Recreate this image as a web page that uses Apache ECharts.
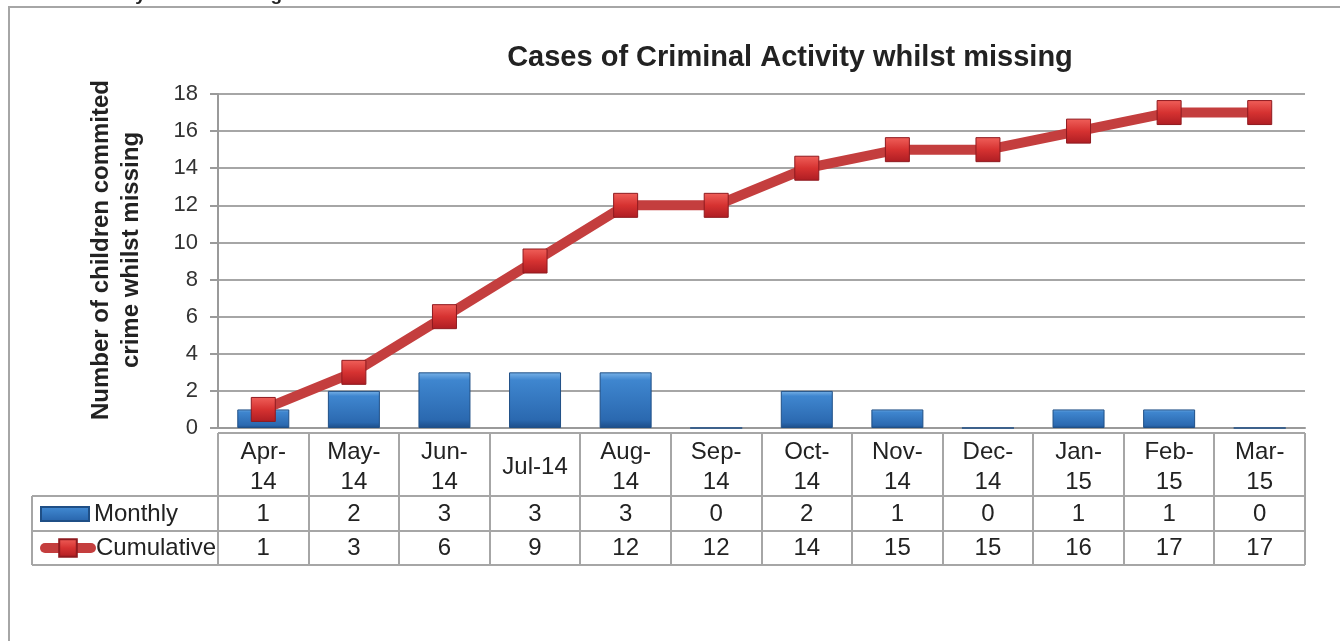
<!DOCTYPE html>
<html>
<head>
<meta charset="utf-8">
<title>Cases of Criminal Activity whilst missing</title>
<script src="https://cdn.jsdelivr.net/npm/echarts@6/dist/echarts.min.js"></script>
<style>
html,body{margin:0;padding:0;background:#fff;}
#main{width:1340px;height:641px;}
</style>
</head>
<body>
<div id="main"></div>
<script>
// data
var months = ['Apr-\n14','May-\n14','Jun-\n14','Jul-14','Aug-\n14','Sep-\n14','Oct-\n14','Nov-\n14','Dec-\n14','Jan-\n15','Feb-\n15','Mar-\n15'];
var monthly = [1,2,3,3,3,0,2,1,0,1,1,0];
var cumulative = [1,3,6,9,12,12,14,15,15,16,17,17];
var seriesNames = ['Monthly','Cumulative'];

// layout (px)
var plotL = 218, plotR = 1305, plotT = 94, plotB = 428;
var tabTop = 433, rowA = 496, rowB = 531, tabBot = 565, tabL = 32;
var FONT = '"Liberation Sans", Arial, sans-serif';

var barColor = new echarts.graphic.LinearGradient(0,0,0,1,[
	{offset:0, color:'#7ab3e8'},
	{offset:0.14, color:'#3f86cf'},
	{offset:0.85, color:'#2b69b0'},
	{offset:1, color:'#1c4d88'}
]);
var markColor = new echarts.graphic.LinearGradient(0,0,0,1,[
	{offset:0, color:'#f0605a'},
	{offset:0.5, color:'#d63231'},
	{offset:1, color:'#ad1d23'}
]);

// data table grid lines
function tableLines(){
	var els = [];
	var lineStyle = {stroke:'#a6a6a6', lineWidth:2};
	var hl = [[plotL, tabTop],[tabL, rowA],[tabL, rowB],[tabL, tabBot]];
	for(var i=0;i<hl.length;i++){
		els.push({type:'line', shape:{x1:hl[i][0], y1:hl[i][1], x2:plotR, y2:hl[i][1]}, style:lineStyle, silent:true});
	}
	els.push({type:'line', shape:{x1:tabL, y1:rowA, x2:tabL, y2:tabBot}, style:lineStyle, silent:true});
	var w = (plotR - plotL) / months.length;
	for(var k=0;k<=months.length;k++){
		var x = Math.round(plotL + k*w);
		els.push({type:'line', shape:{x1:x, y1:tabTop, x2:x, y2:tabBot}, style:lineStyle, silent:true});
	}
	return els;
}

var graphics = tableLines();
// outer chart border
graphics.push({type:'rect', shape:{x:9, y:7, width:1400, height:700}, style:{fill:null, stroke:'#a6a6a6', lineWidth:2}, silent:true});
// clipped heading above the chart (only descenders visible)
graphics.push({type:'text', x:-4, y:4, style:{text:'Criminal Activity whilst missing', font:'bold 19px ' + FONT, fill:'#222', textVerticalAlign:'bottom'}, silent:true});

function tableAxis(data, margin){
	return {
		type:'category',
		gridIndex:0,
		position:'bottom',
		data:data,
		axisLine:{show:false},
		axisTick:{show:false},
		axisLabel:{interval:0, margin:margin, verticalAlign:'middle', fontSize:24, lineHeight:30, color:'#222', fontFamily:FONT}
	};
}

var option = {
	backgroundColor:'#fff',
	animation:false,
	title:{
		text:'Cases of Criminal Activity whilst missing',
		left:785,
		top:38,
		textAlign:'center',
		textStyle:{fontSize:29, fontWeight:'bold', color:'#222', fontFamily:FONT}
	},
	legend:[
		{
			left:40,
			top:502,
			padding:0,
			icon:'rect',
			itemWidth:48,
			itemHeight:14,
			data:[seriesNames[0]],
			textStyle:{fontSize:24, color:'#222', fontFamily:FONT}
		},
		{
			left:40,
			top:536,
			padding:0,
			itemWidth:46,
			itemHeight:22,
			data:[{name:seriesNames[1], lineStyle:{width:10, cap:'round'}}],
			textStyle:{fontSize:24, color:'#222', fontFamily:FONT}
		}
	],
	grid:{left:plotL, right:1340-plotR, top:plotT, bottom:641-plotB, containLabel:false},
	xAxis:[
		{
			type:'category',
			data:months,
			axisLine:{show:true, lineStyle:{color:'#9a9a9a', width:2}},
			axisTick:{show:false},
			axisLabel:{interval:0, margin:39, verticalAlign:'middle', fontSize:24, lineHeight:30, color:'#222', fontFamily:FONT}
		},
		tableAxis(monthly.map(String), 86),
		tableAxis(cumulative.map(String), 120)
	],
	yAxis:{
		type:'value',
		min:0,
		max:18,
		interval:2,
		name:'Number of children commited\ncrime whilst missing',
		nameLocation:'middle',
		nameGap:72,
		nameTextStyle:{fontSize:24, fontWeight:'bold', color:'#222', lineHeight:30, padding:[0,0,0,22], fontFamily:FONT},
		axisLine:{show:true, lineStyle:{color:'#9a9a9a', width:2}},
		axisTick:{show:true, length:8, lineStyle:{color:'#9a9a9a', width:2}},
		axisLabel:{margin:20, fontSize:22, color:'#333', fontFamily:FONT},
		splitLine:{lineStyle:{color:'#a6a6a6', width:2}}
	},
	series:[
		{
			name:'Monthly',
			type:'bar',
			xAxisIndex:0,
			barWidth:52,
			data:monthly,
			itemStyle:{color:barColor, borderColor:'#1f4f86', borderWidth:1}
		},
		{
			name:'Cumulative',
			type:'line',
			xAxisIndex:0,
			data:cumulative,
			symbol:'rect',
			symbolSize:24,
			lineStyle:{color:'#c43e3e', width:10},
			itemStyle:{color:markColor, borderColor:'#8f1a1f', borderWidth:1},
			z:3
		}
	],
	graphic:graphics
};

echarts.init(document.getElementById('main')).setOption(option);
</script>
</body>
</html>
